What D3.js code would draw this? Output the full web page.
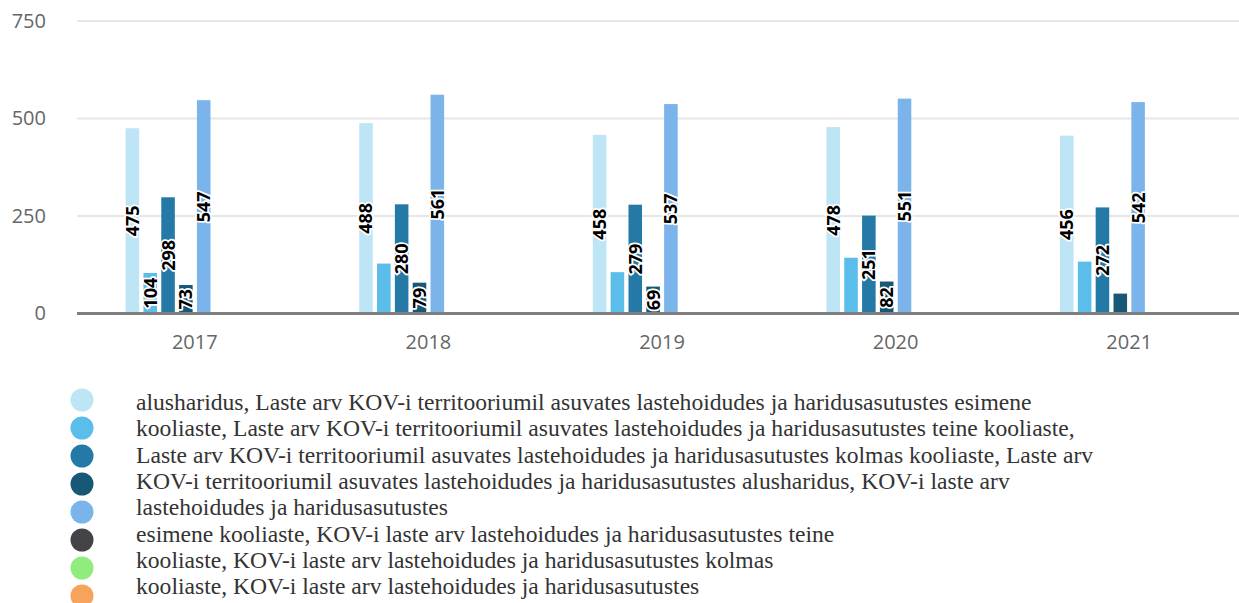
<!DOCTYPE html>
<html>
<head>
<meta charset="utf-8">
<script src="https://cdn.jsdelivr.net/npm/d3@7"></script>
<style>
  body { margin: 0; background: #fff; }
  svg { display: block; }
</style>
</head>
<body>
<svg id="chart" width="1239" height="603"></svg>
<script>
// years on the x axis
const years = ['2017', '2018', '2019', '2020', '2021'];
// one array per series, 8 series (last three have no values)
const s1 = [475, 488, 458, 478, 456];
const s2 = [104, 128, 106, 143, 133];
const s3 = [298, 280, 279, 251, 272];
const s4 = [73, 79, 69, 82, 51];
const s5 = [547, 561, 537, 551, 542];
const s6 = [0, 0, 0, 0, 0];
const s7 = [0, 0, 0, 0, 0];
const s8 = [0, 0, 0, 0, 0];
// which values get a label drawn on the bar
const lab2 = [104, null, null, null, null];
const lab4 = [73, 79, 69, 82, null];
const yTicks = [0, 250, 500, 750];
const colors = ['#bee5f6', '#5bbde9', '#2579a7', '#175877', '#7ab4ea', '#434348', '#90ed7d', '#f7a35c'];
// legend text as it is wrapped in the picture
const legendLines = [
  'alusharidus, Laste arv KOV-i territooriumil asuvates lastehoidudes ja haridusasutustes esimene',
  'kooliaste, Laste arv KOV-i territooriumil asuvates lastehoidudes ja haridusasutustes teine kooliaste,',
  'Laste arv KOV-i territooriumil asuvates lastehoidudes ja haridusasutustes kolmas kooliaste, Laste arv',
  'KOV-i territooriumil asuvates lastehoidudes ja haridusasutustes alusharidus, KOV-i laste arv',
  'lastehoidudes ja haridusasutustes',
  'esimene kooliaste, KOV-i laste arv lastehoidudes ja haridusasutustes teine',
  'kooliaste, KOV-i laste arv lastehoidudes ja haridusasutustes kolmas',
  'kooliaste, KOV-i laste arv lastehoidudes ja haridusasutustes'
];

const series = [s1, s2, s3, s4, s5, s6, s7, s8];
const labels = [s1, lab2, s3, lab4, s5, null, null, null];

const svg = d3.select('#chart');
const mLeft = 78, mRight = 1246, mTop = 21, mBottom = 313.5;

const x0 = d3.scaleBand().domain(years).range([mLeft, mRight]).paddingInner(0.4).paddingOuter(0.2);
const x1 = d3.scaleBand().domain(d3.range(series.length)).range([0, x0.bandwidth()]).paddingInner(0.24).paddingOuter(0.05);
const y = d3.scaleLinear().domain([0, 750]).range([mBottom, mTop]);

// gridlines
svg.append('g').selectAll('line').data(yTicks.filter(d => d > 0)).enter()
  .append('line')
  .attr('x1', mLeft - 1).attr('x2', 1239)
  .attr('y1', d => y(d)).attr('y2', d => y(d))
  .attr('stroke', '#e6e6e6').attr('stroke-width', 2);

// y axis labels
const yAxis = svg.append('g').attr('transform', `translate(${mLeft - 20},0)`)
  .call(d3.axisLeft(y).tickValues(yTicks).tickSize(0).tickPadding(12));
yAxis.select('.domain').remove();
yAxis.selectAll('text').attr('font-family', 'Open Sans').attr('font-size', 20).attr('fill', '#666');

// bars
const groups = svg.append('g').selectAll('g').data(years).enter()
  .append('g').attr('transform', d => `translate(${x0(d)},0)`);

groups.selectAll('rect')
  .data((d, i) => series.map((s, k) => ({ k: k, v: s[i] })))
  .enter().append('rect')
  .attr('x', d => x1(d.k))
  .attr('width', x1.bandwidth())
  .attr('y', d => y(d.v))
  .attr('height', d => y(0) - y(d.v))
  .attr('fill', d => colors[d.k]);

// x axis line
svg.append('line')
  .attr('x1', mLeft - 1).attr('x2', 1239)
  .attr('y1', y(0)).attr('y2', y(0))
  .attr('stroke', '#7f7f7f').attr('stroke-width', 3);

const xAxis = svg.append('g').attr('transform', `translate(0,${y(0)})`)
  .call(d3.axisBottom(x0).tickSize(0).tickPadding(21));
xAxis.select('.domain').remove();
xAxis.selectAll('text').attr('font-family', 'Open Sans').attr('font-size', 20).attr('fill', '#666');

// value labels, rotated, in the middle of each bar
groups.selectAll('text.val')
  .data((d, i) => labels.map((l, k) => ({ k: k, v: series[k][i], l: l ? l[i] : null })).filter(d => d.l != null))
  .enter().append('text')
  .attr('class', 'val')
  .attr('transform', d => `translate(${x1(d.k) + x1.bandwidth() / 2},${(y(0) + y(d.v)) / 2}) rotate(-90)`)
  .attr('text-anchor', 'middle')
  .attr('dy', '0.36em')
  .attr('font-family', 'Open Sans').attr('font-weight', 'bold').attr('font-size', 18)
  .attr('fill', '#000').attr('stroke', '#fff').attr('stroke-width', 3.5)
  .attr('stroke-linejoin', 'round')
  .attr('paint-order', 'stroke')
  .text(d => d.l);

// legend
const lg = svg.append('g');
lg.selectAll('circle').data(colors).enter()
  .append('circle')
  .attr('cx', 82).attr('cy', (d, i) => 400 + i * 28)
  .attr('r', 11.5)
  .attr('fill', d => d);
lg.selectAll('text').data(legendLines).enter()
  .append('text')
  .attr('x', 136).attr('y', (d, i) => 410 + i * 26.3)
  .attr('font-family', 'Liberation Serif').attr('font-size', 23.6)
  .attr('fill', '#333')
  .text(d => d);
</script>
</body>
</html>
